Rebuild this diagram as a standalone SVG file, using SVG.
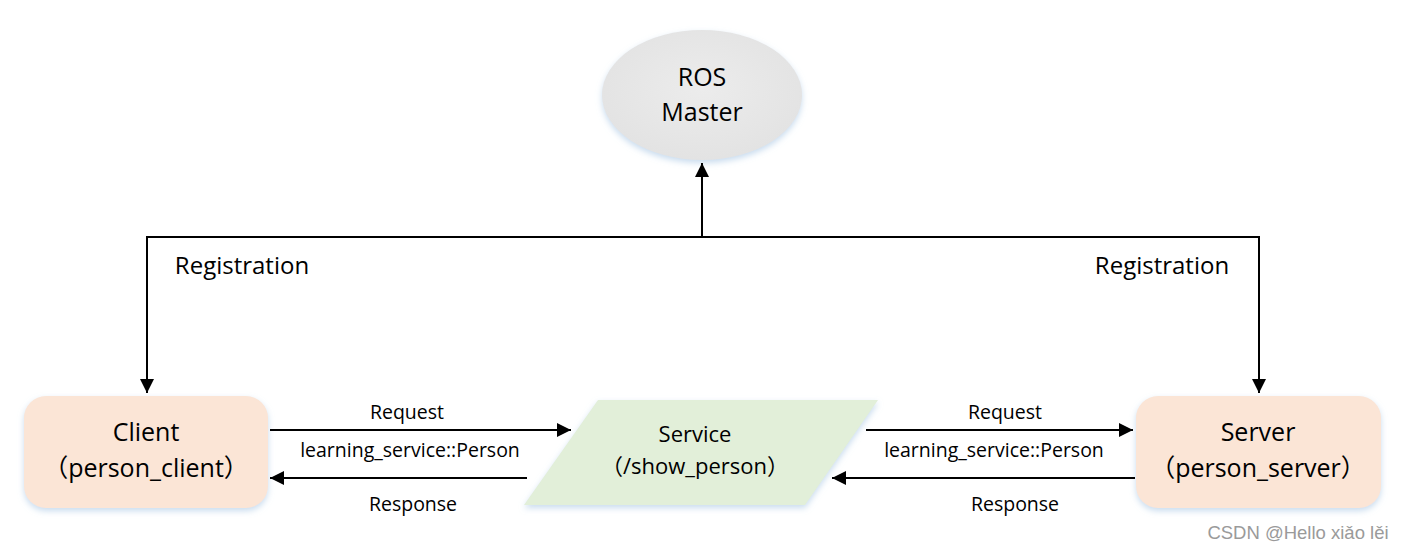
<svg xmlns="http://www.w3.org/2000/svg" width="1404" height="550" viewBox="0 0 1404 550">
<defs>
<marker id="ah" viewBox="0 0 10 10" refX="10" refY="5" markerWidth="14" markerHeight="14" markerUnits="userSpaceOnUse" orient="auto"><path d="M0,0 L10,5 L0,10 Z" fill="#000"/></marker>
<radialGradient id="gEll" cx="50%" cy="45%" r="60%"><stop offset="0" stop-color="#ececec"/><stop offset="1" stop-color="#e2e2e2"/></radialGradient>
<filter id="sh" x="-10%" y="-10%" width="120%" height="130%"><feDropShadow dx="0" dy="3" stdDeviation="3" flood-color="#bcd3ea" flood-opacity="0.8"/></filter>
</defs>
<style>
.t{font-family:"Open Sans","Noto Sans","Noto Sans CJK SC",sans-serif;fill:#000;text-anchor:middle}
.n{font-size:25px}
.s{font-size:22px}
.e{font-size:19.5px}
.r{font-size:24px}
.p{font-family:"Noto Sans CJK SC",sans-serif}
.ln{stroke:#000;stroke-width:2;fill:none}
</style>
<rect width="1404" height="550" fill="#fff"/>
<g id="master">
<ellipse cx="702" cy="95" rx="100" ry="65" fill="url(#gEll)" filter="url(#sh)"/>
<text class="t n" x="702" y="86">ROS</text>
<text class="t n" x="702" y="121">Master</text>
</g>
<g id="client">
<rect x="24" y="396" width="244" height="112" rx="22" fill="#fbe5d6" filter="url(#sh)"/>
<text class="t n" x="146" y="441">Client</text>
<text class="t n" x="146" y="477"><tspan class="p">（</tspan>person_client<tspan class="p">）</tspan></text>
</g>
<g id="service">
<polygon points="598,400 878,400 805,505 524,505" fill="#e2efd9" filter="url(#sh)"/>
<text class="t s" x="695" y="442">Service</text>
<text class="t s" x="695" y="474"><tspan class="p">（</tspan>/show_person<tspan class="p">）</tspan></text>
</g>
<g id="server">
<rect x="1136" y="396" width="245" height="112" rx="22" fill="#fbe5d6" filter="url(#sh)"/>
<text class="t n" x="1258" y="441">Server</text>
<text class="t n" x="1258" y="477"><tspan class="p">（</tspan>person_server<tspan class="p">）</tspan></text>
</g>
<g id="connectors">
<path class="ln" d="M702,237 V163" marker-end="url(#ah)"/>
<path class="ln" d="M147,237 H1259"/>
<path class="ln" d="M147,236 V393" marker-end="url(#ah)"/>
<path class="ln" d="M1259,236 V393" marker-end="url(#ah)"/>
<path class="ln" d="M270,430 H571" marker-end="url(#ah)"/>
<path class="ln" d="M527,478 H270" marker-end="url(#ah)"/>
<path class="ln" d="M866,430 H1133" marker-end="url(#ah)"/>
<path class="ln" d="M1135,478 H832" marker-end="url(#ah)"/>
<text class="t r" x="242" y="274">Registration</text>
<text class="t r" x="1162" y="274">Registration</text>
<text class="t e" x="407" y="419">Request</text>
<text class="t e" x="410" y="457">learning_service::Person</text>
<text class="t e" x="413" y="511">Response</text>
<text class="t e" x="1005" y="419">Request</text>
<text class="t e" x="994" y="457">learning_service::Person</text>
<text class="t e" x="1015" y="511">Response</text>
</g>
<text x="1298" y="539" style="font-family:'Liberation Sans',Arial,sans-serif;font-size:18.5px;fill:#9a9a9a;text-anchor:middle">CSDN @Hello xiǎo lěi</text>
</svg>
